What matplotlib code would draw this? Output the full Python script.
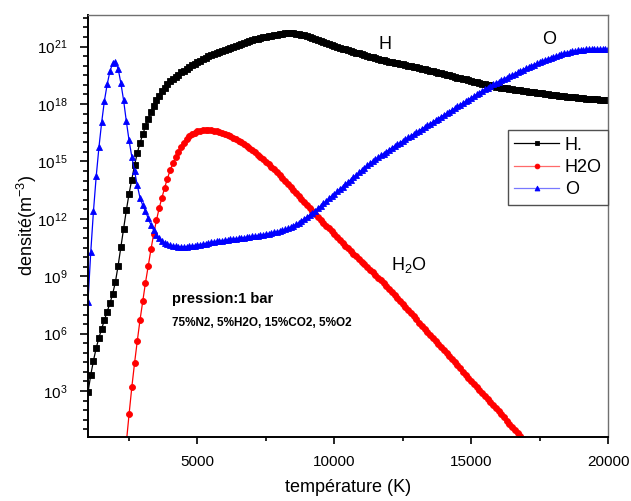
import matplotlib
matplotlib.use("Agg")
import matplotlib.pyplot as plt
import numpy as np
from matplotlib.ticker import FixedLocator, MultipleLocator, NullFormatter, LogFormatterSciNotation

plt.rcParams["font.family"] = ["Liberation Sans", "DejaVu Sans"]
plt.rcParams["mathtext.fontset"] = "custom"
plt.rcParams["mathtext.rm"] = "Liberation Sans"
plt.rcParams["mathtext.it"] = "Liberation Sans:italic"
plt.rcParams["mathtext.bf"] = "Liberation Sans:bold"

# temperature grid of the computation (K)
T_STEP = 100
T_H_START, T_H_END = 1000, 20000
T_H2O_START, T_H2O_END = 2400, 17000

# log10 of the densities (m^-3), one value per temperature step
LOG_H = [
    2.93, 3.84, 4.59, 5.25, 5.79, 6.26, 6.72, 7.15, 7.58, 8.07,
    8.69, 9.55, 10.51, 11.46, 12.44, 13.31, 14.05, 14.80, 15.43, 15.97,
    16.41, 16.84, 17.22, 17.58, 17.88, 18.19, 18.44, 18.67, 18.86, 19.03,
    19.18, 19.31, 19.43, 19.54, 19.65, 19.75, 19.85, 19.94, 20.03, 20.11,
    20.19, 20.27, 20.35, 20.42, 20.49, 20.56, 20.62, 20.68, 20.74, 20.79,
    20.84, 20.89, 20.94, 20.99, 21.04, 21.09, 21.14, 21.19, 21.24, 21.29,
    21.33, 21.37, 21.41, 21.45, 21.48, 21.51, 21.54, 21.57, 21.60, 21.62,
    21.65, 21.67, 21.69, 21.70, 21.70, 21.70, 21.68, 21.66, 21.63, 21.60,
    21.56, 21.51, 21.45, 21.40, 21.34, 21.29, 21.24, 21.19, 21.14, 21.09,
    21.04, 20.99, 20.94, 20.89, 20.85, 20.81, 20.76, 20.72, 20.68, 20.64,
    20.60, 20.56, 20.51, 20.47, 20.43, 20.39, 20.35, 20.31, 20.28, 20.25,
    20.22, 20.19, 20.16, 20.13, 20.10, 20.07, 20.04, 20.01, 19.98, 19.95,
    19.92, 19.88, 19.85, 19.81, 19.78, 19.74, 19.71, 19.67, 19.64, 19.60,
    19.56, 19.52, 19.49, 19.45, 19.42, 19.38, 19.35, 19.31, 19.28, 19.24,
    19.21, 19.17, 19.14, 19.10, 19.07, 19.03, 19.00, 18.97, 18.94, 18.91,
    18.88, 18.86, 18.84, 18.82, 18.80, 18.78, 18.75, 18.73, 18.71, 18.69,
    18.67, 18.65, 18.63, 18.61, 18.59, 18.57, 18.55, 18.53, 18.51, 18.49,
    18.48, 18.46, 18.44, 18.42, 18.41, 18.39, 18.37, 18.36, 18.34, 18.33,
    18.31, 18.30, 18.28, 18.27, 18.26, 18.25, 18.24, 18.23, 18.22, 18.21,
    18.20,
]

LOG_O = [
    7.67, 10.25, 12.41, 14.22, 15.74, 17.05, 18.17, 19.02, 19.70, 20.12,
    20.21, 19.85, 19.10, 18.20, 17.10, 16.10, 15.25, 14.50, 13.75, 13.10,
    12.70, 12.40, 12.02, 11.68, 11.40, 11.17, 10.98, 10.84, 10.74, 10.67,
    10.62, 10.58, 10.56, 10.54, 10.54, 10.54, 10.55, 10.56, 10.58, 10.60,
    10.62, 10.65, 10.68, 10.71, 10.74, 10.77, 10.80, 10.82, 10.84, 10.86,
    10.88, 10.90, 10.92, 10.94, 10.96, 10.98, 11.00, 11.02, 11.04, 11.06,
    11.08, 11.10, 11.12, 11.14, 11.17, 11.20, 11.23, 11.26, 11.30, 11.33,
    11.36, 11.40, 11.45, 11.50, 11.56, 11.63, 11.71, 11.80, 11.90, 12.00,
    12.10, 12.20, 12.31, 12.43, 12.55, 12.68, 12.81, 12.94, 13.07, 13.19,
    13.30, 13.43, 13.55, 13.68, 13.80, 13.93, 14.05, 14.18, 14.30, 14.43,
    14.55, 14.67, 14.79, 14.90, 15.01, 15.11, 15.21, 15.31, 15.41, 15.51,
    15.61, 15.71, 15.80, 15.89, 15.98, 16.07, 16.16, 16.25, 16.34, 16.43,
    16.52, 16.61, 16.70, 16.79, 16.88, 16.97, 17.06, 17.15, 17.24, 17.33,
    17.42, 17.51, 17.60, 17.69, 17.78, 17.87, 17.96, 18.05, 18.14, 18.23,
    18.32, 18.41, 18.50, 18.59, 18.68, 18.77, 18.86, 18.94, 19.02, 19.10,
    19.17, 19.24, 19.31, 19.38, 19.45, 19.52, 19.59, 19.66, 19.73, 19.80,
    19.87, 19.94, 20.00, 20.06, 20.12, 20.18, 20.24, 20.30, 20.36, 20.41,
    20.46, 20.51, 20.56, 20.61, 20.65, 20.69, 20.72, 20.75, 20.78, 20.80,
    20.82, 20.84, 20.85, 20.86, 20.87, 20.87, 20.87, 20.87, 20.87, 20.86,
    20.86,
]

LOG_H2O = [
    0.30, 1.78, 3.19, 4.45, 5.61, 6.71,
    7.70, 8.66, 9.53, 10.40, 11.20, 11.92, 12.55, 13.10, 13.62, 14.10,
    14.53, 14.90, 15.22, 15.50, 15.76, 15.98, 16.17, 16.32, 16.43, 16.51,
    16.57, 16.61, 16.63, 16.64, 16.64, 16.63, 16.61, 16.58, 16.54, 16.50,
    16.45, 16.39, 16.32, 16.24, 16.16, 16.08, 15.99, 15.89, 15.79, 15.69,
    15.58, 15.47, 15.35, 15.23, 15.11, 14.99, 14.86, 14.73, 14.60, 14.45,
    14.30, 14.15, 13.99, 13.83, 13.67, 13.51, 13.35, 13.19, 13.03, 12.87,
    12.71, 12.55, 12.40, 12.25, 12.10, 11.95, 11.80, 11.65, 11.50, 11.35,
    11.20, 11.05, 10.90, 10.75, 10.60, 10.46, 10.32, 10.18, 10.04, 9.90,
    9.76, 9.62, 9.48, 9.34, 9.20, 9.06, 8.92, 8.78, 8.64, 8.50,
    8.34, 8.18, 8.02, 7.86, 7.70, 7.54, 7.38, 7.22, 7.06, 6.90,
    6.74, 6.58, 6.42, 6.26, 6.10, 5.94, 5.78, 5.62, 5.46, 5.30,
    5.14, 4.98, 4.82, 4.66, 4.50, 4.34, 4.18, 4.02, 3.86, 3.70,
    3.54, 3.38, 3.22, 3.06, 2.90, 2.74, 2.58, 2.42, 2.26, 2.10,
    1.94, 1.78, 1.62, 1.46, 1.30, 1.14, 0.98, 0.82, 0.66, 0.50,
    0.34,
]

LABELS = ["H.", "H2O", "O"]
Y_MAJOR_EXP = [3, 6, 9, 12, 15, 18, 21]


def main() -> None:
    fig = plt.figure(figsize=(6.31, 5.01), dpi=100)
    ax = fig.add_axes([88 / 631, 64 / 501, 520 / 631, 422 / 501])

    t_h = np.arange(T_H_START, T_H_END + 1, T_STEP)
    t_h2o = np.arange(T_H2O_START, T_H2O_END + 1, T_STEP)

    # markers at every grid point; no pixel snapping so dense runs look smooth
    line_h, = ax.plot(t_h, 10.0 ** np.array(LOG_H), color="black", lw=0.9,
                      marker="s", ms=3.7, mec="black", mew=0.6, snap=False)
    line_h2o, = ax.plot(t_h2o, 10.0 ** np.array(LOG_H2O), color="red", lw=0.9,
                        marker="o", ms=4.3, mec="red", mew=0.6, snap=False)
    line_o, = ax.plot(t_h, 10.0 ** np.array(LOG_O), color="blue", lw=0.9,
                      marker="^", ms=4.4, mec="blue", mew=0.6, snap=False)

    ax.set_yscale("log")
    ax.set_xlim(1000, 20000)
    ax.set_ylim(10 ** 0.6, 10 ** 22.65)

    ax.xaxis.set_major_locator(MultipleLocator(5000))
    ax.xaxis.set_minor_locator(MultipleLocator(2500))
    ax.yaxis.set_major_locator(FixedLocator([10.0 ** e for e in Y_MAJOR_EXP]))
    ax.yaxis.set_major_formatter(LogFormatterSciNotation())
    ax.yaxis.set_minor_locator(FixedLocator([10.0 ** (k / 2) for k in range(0, 46)]))
    ax.yaxis.set_minor_formatter(NullFormatter())

    ax.tick_params(which="both", direction="out", top=False, right=False,
                   width=1.2, labelsize=11)
    ax.tick_params(axis="y", which="major", length=6, pad=9)
    ax.tick_params(axis="y", which="minor", length=3.5)
    ax.tick_params(axis="x", which="major", length=5, pad=8)
    ax.tick_params(axis="x", which="minor", length=3)

    for side in ["left", "bottom"]:
        ax.spines[side].set_linewidth(1.4)
        ax.spines[side].set_color("black")
    for side in ["top", "right"]:
        ax.spines[side].set_linewidth(1.0)
        ax.spines[side].set_color("#707070")

    ax.set_xlabel("température (K)", fontsize=13)
    ax.set_ylabel("densité(m$^{-3}$)", fontsize=13)
    ax.xaxis.set_label_coords(0.5, -0.1)
    ax.yaxis.set_label_coords(-0.095, 0.5)

    # curve names
    ax.text(11840, 10 ** 21.09, "H", fontsize=13, ha="center", va="center")
    ax.text(17863, 10 ** 21.35, "O", fontsize=13, ha="center", va="center")
    ax.text(12060, 10 ** 9.33, "H$_2$O", fontsize=13, ha="left", va="baseline")

    ax.text(4055, 10 ** 7.58, "pression:1 bar", fontsize=10.5,
            fontweight="bold", ha="left", va="baseline")
    ax.text(4055, 10 ** 6.40, "75%N2, 5%H2O, 15%CO2, 5%O2", fontsize=8.5,
            fontweight="bold", ha="left", va="baseline")

    leg = ax.legend([line_h, line_h2o, line_o], LABELS, loc="upper right",
                    bbox_to_anchor=(1.0, 0.727), borderaxespad=0.0,
                    fontsize=13, handlelength=2.5, handletextpad=0.3,
                    labelspacing=0.3, borderpad=0.35,
                    fancybox=False, framealpha=1.0, edgecolor="#505050",
                    markerscale=0.8)
    leg.get_frame().set_linewidth(1.0)
    leg_lines = leg.get_lines()
    leg_lines[1].set_color("#ff6a6a")
    leg_lines[1].set_markerfacecolor("red")
    leg_lines[1].set_markeredgecolor("red")
    leg_lines[2].set_color("#7878ff")
    leg_lines[2].set_markerfacecolor("blue")
    leg_lines[2].set_markeredgecolor("blue")

    fig.savefig("out.png", dpi=100)


if __name__ == "__main__":
    main()
